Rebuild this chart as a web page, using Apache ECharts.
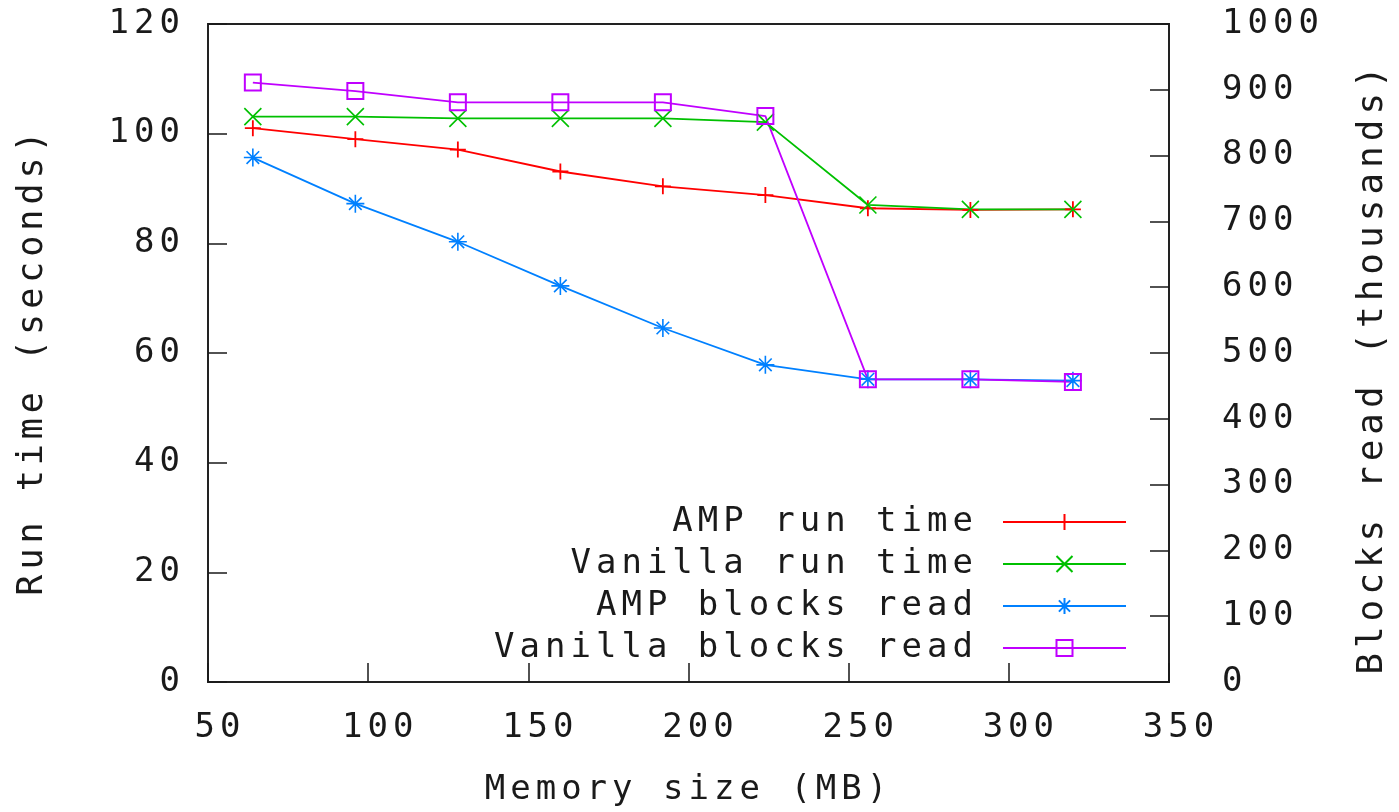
<!DOCTYPE html>
<html>
<head>
<meta charset="utf-8">
<title>Run time and blocks read vs memory size</title>
<script src="https://cdn.jsdelivr.net/npm/echarts@6/dist/echarts.min.js"></script>
<style>
  html, body { margin: 0; padding: 0; background: #fff; }
  #chart { width: 1399px; height: 812px; }
</style>
</head>
<body>
<div id="chart"></div>
<script>
// Memory sizes (MB) at which both runs were measured
const memorySizes = [64, 96, 128, 160, 192, 224, 256, 288, 320];

// Run time in seconds (left axis)
const ampRunTime     = [101.0, 99.0, 97.1, 93.1, 90.4, 88.8, 86.4, 86.1, 86.2];
const vanillaRunTime = [103.1, 103.1, 102.8, 102.8, 102.8, 102.1, 87.0, 86.2, 86.2];

// Blocks read in thousands (right axis)
const ampBlocksRead     = [797, 727, 669, 602, 538, 482, 460, 460, 458];
const vanillaBlocksRead = [911, 898, 881, 881, 881, 860, 460, 460, 456];

const seriesNames = ['AMP run time', 'Vanilla run time', 'AMP blocks read', 'Vanilla blocks read'];

const xTicks  = { min: 50, max: 350, step: 50 };
const yTicks  = { min: 0, max: 120, step: 20 };
const y2Ticks = { min: 0, max: 1000, step: 100 };

// Wide-set monospace lettering, like the classic plotting terminal font
const LETTER_SPACING = '5px';
const ctxProto = CanvasRenderingContext2D.prototype;
const baseFillText = ctxProto.fillText;
ctxProto.fillText = function (text, x, y, maxWidth) {
  this.letterSpacing = LETTER_SPACING;
  return maxWidth === undefined
    ? baseFillText.call(this, text, x, y)
    : baseFillText.call(this, text, x, y, maxWidth);
};

const FONT = 'DejaVu Sans Mono';
const FONT_SIZE = 34;
const INK = '#1a1a1a';

const markers = {
  plus: 'path://M5,0V10M0,5H10',
  cross: 'path://M0,0L10,10M10,0L0,10',
  star: 'path://M5,0V10M0,5H10M1.5,1.5L8.5,8.5M8.5,1.5L1.5,8.5',
  square: 'path://M0,0H10V10H0Z'
};

function pairs(values) {
  return memorySizes.map((m, i) => [m, values[i]]);
}

function lineSeries(name, values, axisIndex, color, symbol, size, borderWidth) {
  return {
    name: name,
    type: 'line',
    yAxisIndex: axisIndex,
    data: pairs(values),
    symbol: symbol,
    symbolSize: size,
    showAllSymbol: true,
    lineStyle: { color: color, width: 1.8 },
    itemStyle: { color: 'rgba(0,0,0,0)', borderColor: color, borderWidth: borderWidth },
    emphasis: { disabled: true }
  };
}

const tickLine = { color: INK, width: 1.5 };
const labelStyle = { fontFamily: FONT, fontSize: FONT_SIZE, color: INK };
const plainNumber = v => String(v);

const chart = echarts.init(document.getElementById('chart'), null, { renderer: 'canvas' });
chart.setOption({
  animation: false,
  backgroundColor: '#fff',
  grid: {
    left: 208, top: 24, width: 970, height: 664,
    show: true, borderColor: '#222', borderWidth: 2, backgroundColor: 'transparent'
  },
  legend: {
    orient: 'vertical',
    align: 'right',
    right: 272,
    top: 505,
    padding: 0,
    itemGap: 8,
    itemWidth: 123,
    itemHeight: 20,
    selectedMode: false,
    data: seriesNames,
    textStyle: { fontFamily: FONT, fontSize: FONT_SIZE, color: INK, padding: [0, 20, 0, 0] }
  },
  xAxis: {
    type: 'value',
    min: xTicks.min, max: xTicks.max, interval: xTicks.step,
    name: 'Memory size (MB)',
    nameLocation: 'middle',
    nameGap: 91,
    nameTextStyle: labelStyle,
    axisLine: { show: false },
    axisTick: { show: true, inside: true, length: 19, lineStyle: tickLine },
    axisLabel: Object.assign({ margin: 29, padding: [0, 0, 0, 24], formatter: plainNumber }, labelStyle),
    splitLine: { show: false }
  },
  yAxis: [
    {
      type: 'value',
      position: 'left',
      min: yTicks.min, max: yTicks.max, interval: yTicks.step,
      name: 'Run time (seconds)',
      nameLocation: 'middle',
      nameRotate: 90,
      nameGap: 158,
      nameTextStyle: Object.assign({}, labelStyle, { fontSize: 35, padding: [0, 16, 0, 0] }),
      axisLine: { show: false },
      axisTick: { show: true, inside: true, length: 19, lineStyle: tickLine },
      axisLabel: Object.assign({ margin: 23, padding: [7, 0, 0, 0], formatter: plainNumber }, labelStyle),
      splitLine: { show: false }
    },
    {
      type: 'value',
      position: 'right',
      min: y2Ticks.min, max: y2Ticks.max, interval: y2Ticks.step,
      name: 'Blocks read (thousands)',
      nameLocation: 'middle',
      nameRotate: 90,
      nameGap: 186,
      nameTextStyle: Object.assign({}, labelStyle, { fontSize: 36, padding: [0, 30, 0, 0] }),
      axisLine: { show: false },
      axisTick: { show: true, inside: true, length: 19, lineStyle: tickLine },
      axisLabel: Object.assign({ margin: 53, padding: [7, 0, 0, 0], formatter: plainNumber }, labelStyle),
      splitLine: { show: false }
    }
  ],
  series: [
    lineSeries(seriesNames[0], ampRunTime, 0, '#ff0000', markers.plus, 16, 1.8),
    lineSeries(seriesNames[1], vanillaRunTime, 0, '#00c000', markers.cross, 17, 1.6),
    lineSeries(seriesNames[2], ampBlocksRead, 1, '#0080ff', markers.star, 18, 1.6),
    lineSeries(seriesNames[3], vanillaBlocksRead, 1, '#c000ff', markers.square, 16, 2)
  ]
});
</script>
</body>
</html>
